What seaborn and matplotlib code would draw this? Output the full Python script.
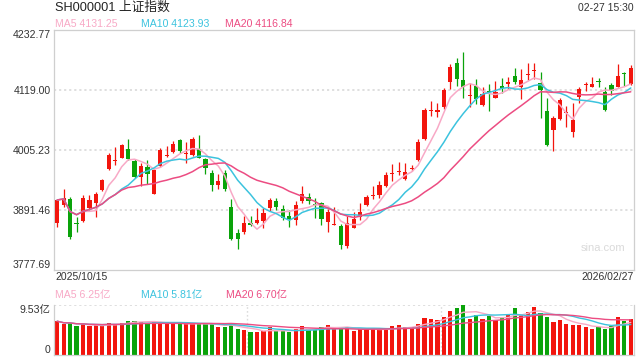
import numpy as np
import pandas as pd
import matplotlib
matplotlib.use("Agg")
import matplotlib.pyplot as plt
import seaborn as sns

# ---------------- data ----------------
opens = [3866.9, 3900.5, 3911.8, 3865.3, 3870.5, 3894.2, 3904.9, 3929.0, 3969.4, 3984.6,
         3990.3, 4006.9, 3984.6, 3954.2, 3972.6, 3921.3, 3974.5, 3994.1, 4001.7, 4024.0,
         3996.8, 3996.0, 4007.4, 3987.8, 3961.8, 3939.0, 3961.8, 3896.0, 3846.6, 3849.6,
         3865.6, 3866.7, 3870.5, 3894.2, 3907.4, 3892.2, 3879.5, 3872.0, 3908.1, 3915.0,
         3900.9, 3903.6, 3868.6, 3863.3, 3860.5, 3823.0, 3857.2, 3877.6, 3900.4, 3917.5,
         3919.4, 3936.5, 3958.7, 3964.1, 3949.2, 3968.8, 3986.0, 4025.9, 4079.6, 4077.2,
         4086.1, 4134.8, 4169.8, 4138.0, 4107.6, 4126.6, 4091.1, 4116.1, 4104.7, 4126.6,
         4131.0, 4146.2, 4125.3, 4148.5, 4154.7, 4131.7, 4079.1, 4043.0, 4063.9, 4075.3,
         4039.7, 4105.1, 4128.5, 4125.3, 4136.7, 4115.8, 4129.1, 4125.3, 4151.9, 4130.4]
highs = [3912.5, 3930.9, 3915.6, 3878.1, 3919.4, 3918.8, 3925.7, 3950.0, 3999.8, 4011.2,
         4016.3, 4025.9, 3987.8, 3980.2, 3986.0, 3969.0, 4008.2, 4012.5, 4022.1, 4025.9,
         4020.1, 4030.2, 4034.0, 3989.7, 3967.0, 3959.3, 3967.0, 3911.2, 3854.8, 3880.0,
         3879.5, 3894.6, 3894.1, 3913.2, 3913.8, 3900.4, 3891.0, 3908.6, 3936.5, 3923.2,
         3913.2, 3906.1, 3892.2, 3896.6, 3863.7, 3879.5, 3887.6, 3903.6, 3919.4, 3936.5,
         3946.6, 3963.7, 3977.8, 3982.7, 3980.2, 3976.4, 4025.3, 4084.2, 4098.7, 4093.7,
         4122.2, 4168.4, 4180.4, 4191.2, 4131.7, 4140.5, 4125.3, 4129.8, 4136.7, 4141.2,
         4144.3, 4160.8, 4158.9, 4170.3, 4170.3, 4152.6, 4103.2, 4069.6, 4104.4, 4089.2,
         4094.9, 4124.1, 4134.8, 4143.1, 4141.8, 4124.1, 4132.9, 4168.4, 4152.6, 4166.5]
lows = [3858.7, 3896.7, 3835.8, 3849.6, 3868.6, 3891.0, 3877.0, 3927.0, 3967.0, 3976.4,
        3989.2, 3985.9, 3952.3, 3937.1, 3939.7, 3921.0, 3973.2, 3992.2, 3999.2, 4000.2,
        3980.8, 3994.5, 3989.7, 3958.7, 3926.4, 3930.2, 3927.6, 3833.9, 3816.2, 3845.3,
        3860.5, 3864.3, 3856.1, 3889.7, 3891.0, 3872.0, 3859.1, 3862.4, 3904.8, 3902.3,
        3876.2, 3862.4, 3849.6, 3863.1, 3816.2, 3818.6, 3856.1, 3872.0, 3898.5, 3911.2,
        3913.2, 3934.0, 3945.4, 3957.4, 3948.0, 3966.0, 3984.0, 4024.0, 4069.6, 4067.1,
        4083.5, 4120.9, 4127.2, 4104.4, 4087.3, 4093.0, 4089.5, 4079.6, 4103.2, 4112.7,
        4120.3, 4130.4, 4102.5, 4138.0, 4139.3, 4065.2, 4013.1, 4003.0, 4062.0, 4049.2,
        4030.2, 4093.7, 4117.7, 4124.1, 4125.3, 4079.6, 4109.5, 4124.1, 4126.6, 4128.5]
closes = [3910.0, 3913.8, 3840.1, 3863.7, 3913.8, 3910.0, 3921.3, 3948.0, 3996.0, 3985.6,
          4014.4, 3987.3, 3954.2, 3974.5, 3959.3, 3967.0, 4005.0, 3994.9, 4017.3, 4003.1,
          3997.7, 4025.9, 3990.3, 3971.3, 3939.0, 3946.0, 3931.4, 3835.2, 3836.3, 3865.6,
          3862.9, 3872.0, 3884.6, 3910.0, 3896.0, 3876.2, 3873.8, 3899.8, 3921.3, 3908.1,
          3899.8, 3874.3, 3887.1, 3864.1, 3824.3, 3866.7, 3873.8, 3887.1, 3915.0, 3918.5,
          3937.8, 3957.4, 3961.8, 3964.8, 3963.1, 3969.8, 4020.1, 4081.0, 4080.6, 4080.4,
          4119.0, 4162.7, 4140.5, 4125.3, 4108.5, 4101.9, 4111.4, 4115.2, 4115.8, 4123.4,
          4133.6, 4134.2, 4138.0, 4149.2, 4155.5, 4119.0, 4014.4, 4065.2, 4100.0, 4076.2,
          4062.0, 4120.3, 4129.5, 4131.0, 4133.6, 4081.0, 4117.7, 4145.6, 4148.8, 4160.8]
volumes = [6.44, 5.86, 6.05, 5.47, 5.86, 5.47, 5.67, 5.54, 6.18, 5.86,
           6.12, 6.57, 6.57, 6.31, 6.12, 6.31, 6.12, 5.86, 6.12, 5.86,
           5.86, 6.05, 5.92, 5.92, 5.86, 5.28, 5.28, 6.18, 4.89, 4.70,
           4.44, 4.31, 4.51, 5.28, 4.51, 4.51, 4.31, 4.89, 5.47, 5.02,
           4.89, 5.28, 5.67, 5.28, 5.15, 5.28, 4.51, 5.02, 5.02, 5.02,
           4.70, 4.70, 5.47, 5.67, 5.28, 5.28, 5.86, 7.02, 6.89, 6.63,
           7.28, 8.37, 8.89, 9.53, 6.89, 7.60, 6.89, 7.40, 6.63, 7.08,
           7.73, 9.01, 7.60, 8.24, 9.21, 7.92, 7.28, 6.31, 6.70, 5.86,
           5.67, 5.67, 5.34, 5.02, 5.34, 4.89, 5.54, 7.28, 6.50, 6.83]

price_ticks = [3777.69, 3891.46, 4005.23, 4119.00, 4232.77]
vol_max = 9.53
title = "SH000001 上证指数"
timestamp = "02-27 15:30"
start_date = "2025/10/15"
end_date = "2026/02/27"
ma_price_labels = ["MA5 4131.25", "MA10 4123.93", "MA20 4116.84"]
ma_vol_labels = ["MA5 6.25亿", "MA10 5.81亿", "MA20 6.70亿"]

# ---------------- styling ----------------
sns.set_theme(style="white")
plt.rcParams["font.family"] = ["Liberation Sans", "Noto Sans CJK SC", "DejaVu Sans"]

RED = "#f2150d"
GREEN = "#0aa30a"
MA_COLORS = ["#f8a9c6", "#3cc3de", "#ec4c82"]
GRID = "#dcdcdc"
SPINE = "#cfcfcf"
TXT = "#333333"

n = len(closes)
df = pd.DataFrame({"i": np.arange(n), "open": opens, "high": highs,
                   "low": lows, "close": closes, "vol": volumes})
df["up"] = df["close"] >= df["open"]
for w in (5, 10, 20):
    df[f"ma{w}"] = df["close"].rolling(w, min_periods=1).mean()
    df[f"vma{w}"] = df["vol"].rolling(w, min_periods=1).mean()

W, H = 640, 360
fig = plt.figure(figsize=(6.4, 3.6), dpi=100)
fig.patch.set_facecolor("white")
ax = fig.add_axes([54 / W, 1 - 269.5 / H, 580 / W, (269.5 - 30.3) / H])
axv = fig.add_axes([54 / W, 1 - 355 / H, 580 / W, 50 / H])

# ---------------- price panel ----------------
colors = np.where(df["up"], RED, GREEN)
for t in price_ticks[1:-1]:
    ax.axhline(t, color=GRID, lw=1.3, ls=(0, (1.2, 1.6)), zorder=1)
ax.vlines(df["i"], df["low"], df["high"], colors=colors, lw=0.9, zorder=2)
body_bottom = np.minimum(df["open"], df["close"])
body_h = np.maximum((df["close"] - df["open"]).abs(), 1.6)
ax.bar(df["i"], body_h, bottom=body_bottom, width=0.66, color=colors,
       linewidth=0, zorder=3)
for w, c in zip((5, 10, 20), MA_COLORS):
    sns.lineplot(data=df, x="i", y=f"ma{w}", ax=ax, color=c, lw=1.1, zorder=4)

ax.set_xlim(-0.5, n - 0.5)
ax.set_ylim(price_ticks[0], price_ticks[-1])
ax.set_xticks([])
ax.set_yticks(price_ticks)
ax.set_yticklabels([f"{t:.2f}" for t in price_ticks])
ax.tick_params(axis="y", length=0, pad=2.5, labelsize=7.6, labelcolor=TXT)
labs = ax.get_yticklabels()
labs[0].set_va("bottom")
labs[-1].set_va("top")
ax.set_xlabel("")
ax.set_ylabel("")
for s in ax.spines.values():
    s.set_color(SPINE)
    s.set_linewidth(0.9)

# ---------------- volume panel ----------------
sns.barplot(data=df, x="i", y="vol", hue="up", palette={True: RED, False: GREEN},
            native_scale=True, width=0.66, dodge=False, saturation=1,
            errorbar=None, legend=False, ax=axv, linewidth=0, zorder=2)
for w, c in zip((5, 10, 20), MA_COLORS):
    sns.lineplot(data=df, x="i", y=f"vma{w}", ax=axv, color=c, lw=1.0, zorder=4)
axv.axhline(vol_max, color=GRID, lw=1.3, ls=(0, (1.2, 1.6)), zorder=1)
for xv in (-0.5 + n / 3, -0.5 + 2 * n / 3):
    axv.axvline(xv, color=GRID, lw=1.0, ls=(0, (1.2, 1.6)), zorder=1)
axv.set_xlim(-0.5, n - 0.5)
axv.set_ylim(0, vol_max)
axv.set_xticks([])
axv.set_yticks([0, vol_max])
axv.set_yticklabels(["0", f"{vol_max:.2f}亿"])
axv.tick_params(axis="y", length=0, pad=2.5, labelsize=7.6, labelcolor=TXT)
vl = axv.get_yticklabels()
vl[0].set_va("bottom")
vl[1].set_va("top")
axv.set_xlabel("")
axv.set_ylabel("")
axv.spines["top"].set_visible(False)
for k in ("left", "right", "bottom"):
    axv.spines[k].set_color(SPINE)
    axv.spines[k].set_linewidth(0.9)

# ---------------- texts ----------------
def ftext(x, y, s, **kw):
    fig.text(x / W, 1 - y / H, s, **kw)

ftext(55, 8, title, fontsize=9.2, color="#222222", va="center", ha="left")
ftext(634, 8, timestamp, fontsize=7.5, color=TXT, va="center", ha="right")
for x, s, c in zip((55, 141, 225), ma_price_labels, MA_COLORS):
    ftext(x, 24, s, fontsize=7.6, color=c, va="center", ha="left")
ftext(55, 277, start_date, fontsize=7.5, color=TXT, va="center", ha="left")
ftext(634, 277, end_date, fontsize=7.5, color=TXT, va="center", ha="right")
for x, s, c in zip((55, 141, 226), ma_vol_labels, MA_COLORS):
    ftext(x, 295, s, fontsize=7.6, color=c, va="center", ha="left")
ftext(603, 248, "sina.com", fontsize=8, color="#dadada", va="center", ha="center")

fig.savefig("out.png", dpi=100, facecolor="white")
